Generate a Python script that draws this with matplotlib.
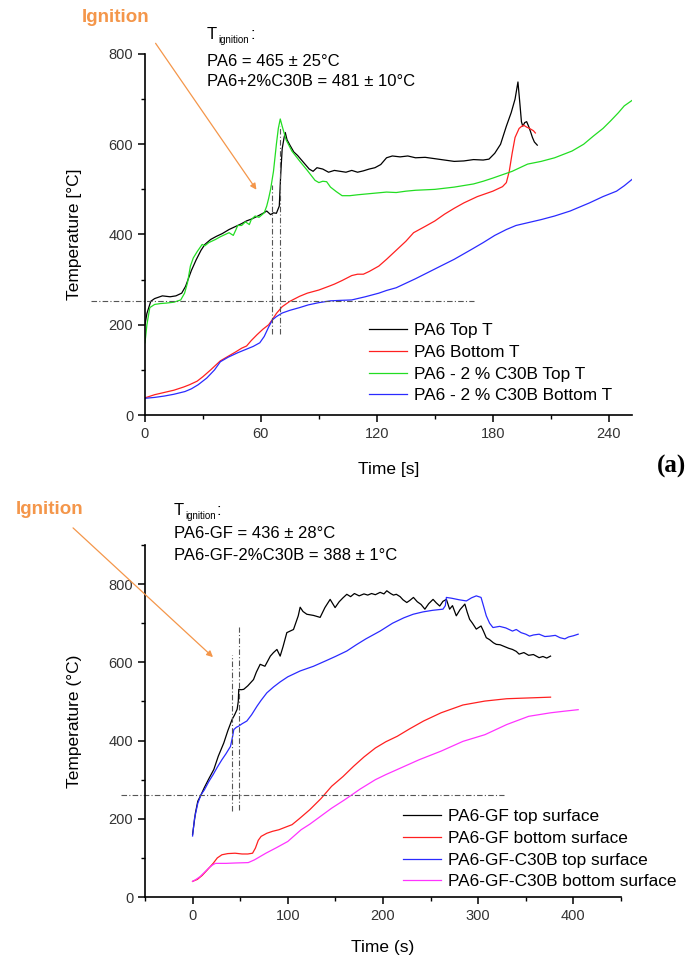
import matplotlib
matplotlib.use("Agg")
import matplotlib.pyplot as plt
from matplotlib.ticker import MultipleLocator
from matplotlib.patches import FancyArrowPatch

plt.rcParams['font.family'] = ['Liberation Sans', 'DejaVu Sans']

# ---------------- (a) PA6 ----------------
pa6_top_t = [0, 1, 3, 5, 9, 13, 16, 19, 21, 24,
             26.5, 29, 31, 34, 37, 40, 43.5, 47, 50, 52.5,
             55, 58, 61.5, 63, 65, 66.5, 68, 69.5, 70.2, 71,
             72, 72.6, 73.5, 75, 77, 79, 82, 85, 87, 89,
             92, 95, 98, 101, 104, 107, 110, 113, 116, 119,
             122, 125, 128, 132, 136, 140, 145, 150, 155, 160,
             165, 170, 175, 178, 181, 184, 187, 189.5, 191.5, 193,
             194, 194.8, 195.5, 196.5, 197.5, 198.5, 199.5, 200.5, 201.5, 203]
pa6_top_T = [200, 225, 252, 258, 264, 262, 264, 270, 285, 320,
             344, 365, 378, 389, 396, 402, 411, 418, 424, 430,
             434, 440, 448, 452, 444, 448, 447, 463, 530, 590,
             615, 626, 610, 598, 583, 575, 560, 545, 540, 548,
             545, 538, 542, 540, 538, 542, 538, 541, 545, 548,
             555, 570, 574, 572, 574, 570, 571, 568, 565, 562,
             563, 566, 565, 567, 580, 600, 640, 670, 700, 738,
             690, 650, 640, 648, 650, 640, 628, 615, 605, 598]

pa6_bot_t = [0, 5, 10, 15, 20, 23, 27, 30, 34, 39,
             43, 47, 50, 52.6, 55, 58, 61, 64, 66, 68,
             71, 75, 80, 84, 90, 95, 98, 102, 107, 110,
             113, 116, 121, 125, 130, 135, 139, 145, 150, 155,
             160, 165, 169, 172, 176, 180, 183, 185, 187, 188.5,
             190, 191.5, 193.6, 195, 196, 197.5, 199, 201, 202]
pa6_bot_T = [38, 45, 50, 55, 62, 67, 75, 85, 100, 120,
             130, 140, 148, 153, 165, 178, 190, 200, 212, 225,
             240, 252, 263, 270, 277, 285, 290, 298, 309, 312,
             312, 318, 330, 345, 365, 385, 404, 418, 430, 445,
             458, 470, 478, 484, 490, 496, 502, 506, 515, 540,
             580, 615, 635, 640, 642, 638, 635, 630, 625]

pa6c_top_t = [0, 1, 2.5, 5, 8, 11, 15, 18.5, 20.5, 22,
              23.5, 25, 27, 29.6, 31, 33, 36.5, 39, 41.5, 43.5,
              45.7, 47, 48, 50, 52, 54, 55, 57, 59, 61.7,
              63, 64, 65, 66.5, 68, 69, 70, 71, 73, 76,
              80, 84, 88, 90, 92, 94, 96, 99, 102, 106,
              110, 115, 120, 125, 130, 135, 140, 150, 160, 170,
              175, 180, 190, 198, 205, 212, 221, 227, 232, 237,
              241, 245, 248, 252]
pa6c_top_T = [160, 200, 238, 245, 247, 248, 250, 255, 270, 293,
              330, 348, 362, 378, 375, 382, 389, 395, 400, 404,
              398, 410, 420, 420, 428, 422, 433, 441, 438, 448,
              463, 480, 500, 540, 600, 635, 656, 640, 610, 585,
              563, 542, 520, 515, 518, 517, 505, 495, 486, 486,
              488, 490, 492, 494, 493, 496, 498, 500, 505, 512,
              518, 525, 540, 556, 562, 570, 585, 600, 618, 635,
              652, 670, 685, 697]

pa6c_bot_t = [0, 5, 10, 15, 20.7, 24, 27.5, 32, 36, 39,
              43, 48, 52, 56, 59.4, 61.7, 64, 66, 68, 71,
              75, 80, 84.5, 90, 96, 101, 107, 114, 121, 125,
              130, 140, 153, 160, 169, 175, 181, 187, 192, 198,
              205, 212, 220, 230, 237, 244, 248, 252]
pa6c_bot_T = [37, 39, 42, 46, 52, 58, 67, 82, 100, 118,
              128, 138, 145, 152, 160, 174, 195, 211, 218, 226,
              232, 238, 244, 249, 253, 254, 255, 262, 270, 276,
              282, 302, 330, 345, 367, 382, 398, 411, 420, 426,
              433, 441, 452, 470, 484, 496, 508, 522]

# ---------------- (b) PA6-GF ----------------
gf_top_t = [0, 3, 5.5, 9, 12.4, 17, 22.3, 27, 32.8, 37,
            41.5, 44, 46.8, 48, 48.5, 51, 53.7, 58, 64, 67,
            71, 76, 81.7, 85, 88.6, 92, 95, 99, 106, 111,
            113, 116, 120, 127, 134, 139, 144.5, 149.7, 154, 158,
            162, 166, 170, 175, 180, 184, 188, 192, 197, 201,
            204, 208, 211, 214, 218, 221, 225, 228, 232, 236,
            240, 244, 248, 252.6, 256, 259.6, 263, 266.6, 270, 273,
            277, 281, 286, 288.5, 291, 294, 298, 303, 305.5, 308.5,
            312, 316, 319, 323, 328, 332, 336, 340, 343, 348,
            353, 358, 364, 368, 372, 376]
gf_top_T = [160, 215, 245, 262, 280, 302, 326, 360, 394, 425,
            454, 465, 480, 500, 531, 530, 531, 540, 556, 575,
            595, 590, 616, 625, 633, 616, 640, 676, 684, 719,
            741, 730, 723, 720, 715, 740, 761, 740, 755, 765,
            774, 768, 776, 770, 775, 772, 776, 773, 779, 775,
            783, 776, 772, 774, 768, 760, 753, 758, 766, 755,
            748, 736, 750, 761, 752, 744, 756, 761, 736, 745,
            719, 735, 749, 728, 710, 700, 685, 693, 680, 663,
            658, 650, 646, 645, 640, 636, 633, 628, 621, 625,
            618, 620, 612, 615, 611, 616]

gf_bot_t = [0, 5, 10, 15, 21.6, 26, 30.8, 37, 44.6, 52,
            58, 63, 66, 69, 72, 78, 84, 90.7, 97, 104.5,
            112, 123, 135, 146, 158, 169, 180, 192, 203, 215,
            228, 242.6, 261, 284, 307, 330, 353, 376]
gf_bot_T = [40, 45, 55, 68, 86, 100, 108, 111, 112, 110,
            110, 112, 125, 145, 155, 163, 168, 172, 178, 185,
            200, 223, 252, 283, 308, 334, 358, 381, 397, 411,
            430, 450, 471, 491, 501, 507, 509, 511]

gfc_top_t = [0, 2, 5.5, 9, 12.4, 17, 21.6, 26, 30.8, 35,
             39.8, 42, 43.3, 46, 48.5, 52, 57, 62, 67.7, 72,
             78, 85, 92, 100, 113, 127, 140, 150, 162, 172,
             182, 197, 210, 222, 231.7, 242, 252, 263, 265.5, 266.6,
             272, 280, 287.6, 293, 298, 303, 305.5, 308.5, 312, 315.5,
             322.5, 329, 336, 340, 345, 350, 354, 358, 364, 370,
             375, 381, 386, 391, 395, 400, 405]
gfc_top_T = [156, 200, 240, 262, 274, 295, 313, 332, 351, 366,
             385, 410, 428, 434, 437, 443, 450, 466, 488, 503,
             522, 537, 550, 563, 578, 590, 604, 615, 629, 645,
             660, 680, 700, 714, 723, 729, 733, 736, 745, 766,
             764, 760, 757, 765, 770, 766, 745, 719, 700, 689,
             692, 688, 680, 684, 676, 672, 667, 670, 672, 666,
             667, 669, 663, 660, 665, 668, 672]

gfc_bot_t = [0, 3, 7.8, 12, 17, 21, 24, 35, 45, 58.5,
             65, 77, 88, 100, 107, 114, 123, 132, 146, 160,
             176, 192, 203, 215, 238, 261, 284, 307, 330, 353,
             376, 390, 405]
gfc_bot_T = [40, 44, 52, 62, 74, 82, 86, 86, 87, 88,
             95, 112, 126, 142, 157, 172, 186, 202, 227, 249,
             276, 300, 313, 326, 351, 373, 398, 415, 441, 462,
             471, 475, 479]

labels_a = ['PA6 Top T', 'PA6 Bottom T', 'PA6 - 2 % C30B Top T', 'PA6 - 2 % C30B Bottom T']
labels_b = ['PA6-GF top surface', 'PA6-GF bottom surface',
            'PA6-GF-C30B top surface', 'PA6-GF-C30B bottom surface']

orange = '#f4964a'
dashdot = (0, (5, 2, 1, 2))
lw = 0.9

fig = plt.figure(figsize=(6.9, 9.71), dpi=100)
ax1 = fig.add_axes([0.2101, 0.5726, 0.7058, 0.3718])
ax2 = fig.add_axes([0.2101, 0.0762, 0.6899, 0.3625])

ax1.plot(pa6_top_t, pa6_top_T, color='black', lw=lw, label=labels_a[0])
ax1.plot(pa6_bot_t, pa6_bot_T, color='#ff2020', lw=lw, label=labels_a[1])
ax1.plot(pa6c_top_t, pa6c_top_T, color='#22dd22', lw=lw, label=labels_a[2])
ax1.plot(pa6c_bot_t, pa6c_bot_T, color='#2a2aff', lw=lw, label=labels_a[3])
ax1.plot([-28, 170], [252, 252], color='#555555', lw=0.8, ls=dashdot, clip_on=False)
ax1.plot([65.5, 65.5], [180, 510], color='#555555', lw=0.8, ls=dashdot)
ax1.plot([70, 70], [180, 640], color='#555555', lw=0.8, ls=dashdot)
ax1.set_xlim(0, 252)
ax1.set_ylim(0, 800)
ax1.xaxis.set_major_locator(MultipleLocator(60))
ax1.xaxis.set_minor_locator(MultipleLocator(30))
ax1.yaxis.set_major_locator(MultipleLocator(200))
ax1.set_xlabel('Time [s]', fontsize=12.5)
ax1.set_ylabel('Temperature [°C]', fontsize=12.5)
ax1.xaxis.set_label_coords(0.5, -0.130)
ax1.yaxis.set_label_coords(-0.129, 0.5)

ax2.plot(gf_top_t, gf_top_T, color='black', lw=lw, label=labels_b[0])
ax2.plot(gf_bot_t, gf_bot_T, color='#ff2020', lw=lw, label=labels_b[1])
ax2.plot(gfc_top_t, gfc_top_T, color='#2a2aff', lw=lw, label=labels_b[2])
ax2.plot(gfc_bot_t, gfc_bot_T, color='#ff33ff', lw=lw, label=labels_b[3])
ax2.plot([-75, 327], [262, 262], color='#555555', lw=0.8, ls=dashdot, clip_on=False)
ax2.plot([41.6, 41.6], [219, 620], color='#555555', lw=0.8, ls=dashdot)
ax2.plot([48.9, 48.9], [223, 690], color='#555555', lw=0.8, ls=dashdot)
ax2.set_xlim(-50, 450)
ax2.set_ylim(0, 900)
ax2.xaxis.set_major_locator(MultipleLocator(100))
ax2.xaxis.set_minor_locator(MultipleLocator(50))
ax2.set_yticks([0, 200, 400, 600, 800])
ax2.set_xlabel('Time (s)', fontsize=12.5)
ax2.set_ylabel('Temperature (°C)', fontsize=12.5)
ax2.xaxis.set_label_coords(0.5, -0.122)
ax2.yaxis.set_label_coords(-0.132, 0.5)

for ax in (ax1, ax2):
    ax.yaxis.set_minor_locator(MultipleLocator(100))
    ax.spines['top'].set_visible(False)
    ax.spines['right'].set_visible(False)
    ax.spines['left'].set_linewidth(1.2)
    ax.spines['bottom'].set_linewidth(1.2)
    ax.tick_params(which='major', direction='out', length=5, width=1.1,
                   labelsize=10.5, labelcolor='#333333')
    ax.tick_params(which='minor', direction='out', length=3, width=1.0)

leg_kw = dict(frameon=False, fontsize=12.4, handlelength=2.2, handletextpad=0.4,
              labelspacing=0.39, borderpad=0, borderaxespad=0, loc='upper left')
ax1.legend(bbox_to_anchor=(0.535, 0.6673), bbox_transform=fig.transFigure, **leg_kw)
ax2.legend(bbox_to_anchor=(0.584, 0.1668), bbox_transform=fig.transFigure, **leg_kw)

# annotation texts (figure pixels -> fractions)
W, H = 690.0, 971.0

def fx(x):
    return x / W

def fy(y):
    return 1 - y / H

fig.text(fx(116), fy(18), 'Ignition', color=orange, fontsize=13.5, fontweight='bold',
         ha='center', va='center')
fig.text(fx(50), fy(509), 'Ignition', color=orange, fontsize=13.5, fontweight='bold',
         ha='center', va='center')
for (x0, y0, x1, y1) in [(154, 41, 258, 192), (71, 526, 215, 659)]:
    fig.add_artist(FancyArrowPatch((fx(x0), fy(y0)), (fx(x1), fy(y1)),
                                   transform=fig.transFigure, arrowstyle='-|>',
                                   mutation_scale=9, color=orange, lw=0.9))

# "T ignition :" headers, then the two values below
for (xt, yb) in [(207, 39), (174, 515)]:
    fig.text(fx(xt), fy(yb), 'T', fontsize=12, va='baseline')
    fig.text(fx(xt + 11), fy(yb + 4), 'ignition', fontsize=7, va='baseline')
    fig.text(fx(xt + 43), fy(yb), ':', fontsize=12, va='baseline')
fig.text(fx(207), fy(61), 'PA6 = 465 ± 25°C', fontsize=12, va='center')
fig.text(fx(207), fy(82), 'PA6+2%C30B = 481 ± 10°C', fontsize=12, va='center')
fig.text(fx(174), fy(534), 'PA6-GF = 436 ± 28°C', fontsize=12, va='center')
fig.text(fx(174), fy(556), 'PA6-GF-2%C30B = 388 ± 1°C', fontsize=12, va='center')

fig.text(fx(657), fy(466), '(a)', fontsize=18, fontweight='bold', va='center',
         family=['Liberation Serif', 'DejaVu Serif'])

fig.savefig('out.png', dpi=100)
